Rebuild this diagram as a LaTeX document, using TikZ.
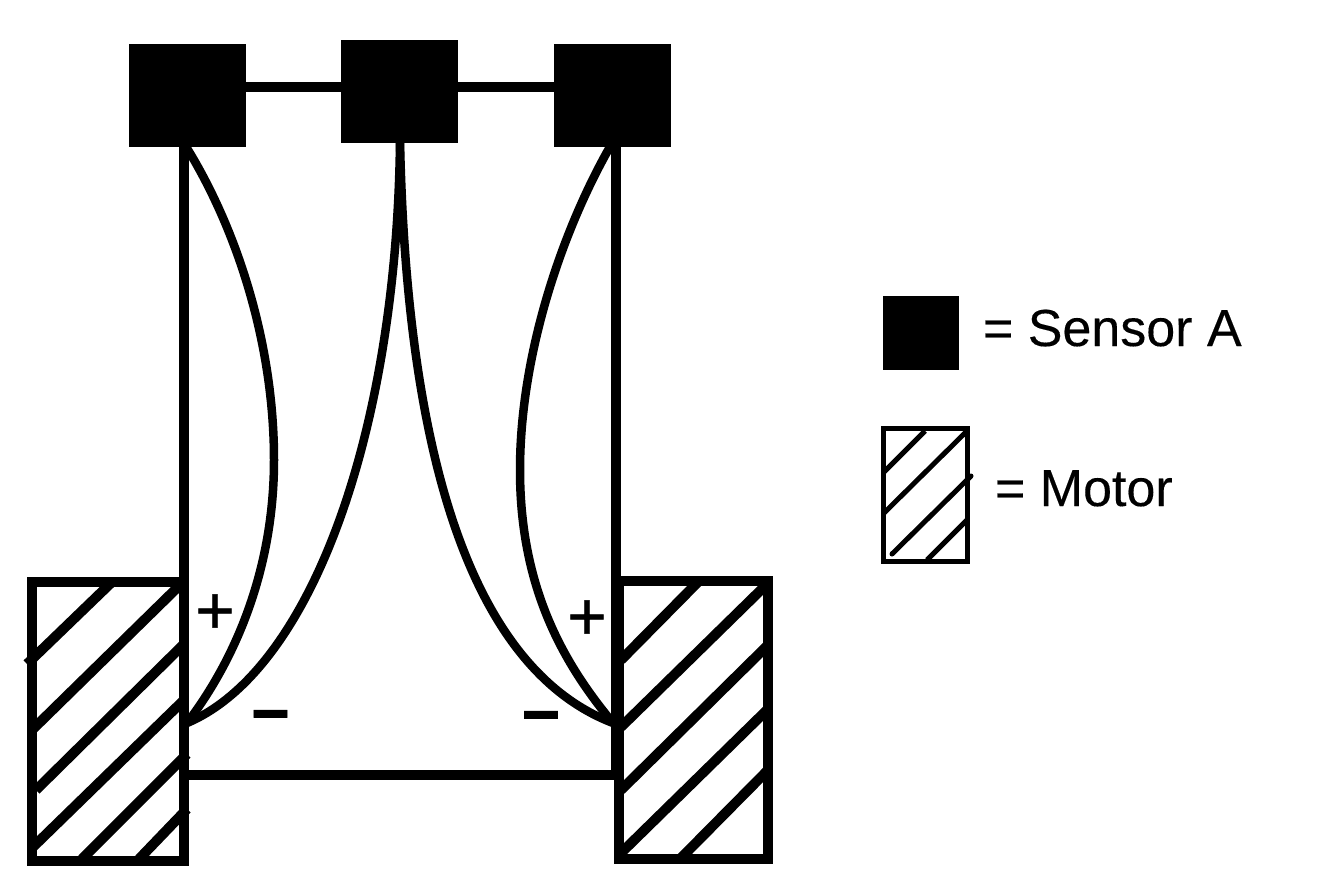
\documentclass[tikz,border=0pt]{standalone}
\usepackage{fontspec}
\setmainfont{Liberation Sans}
\newfontfamily\signfont[FakeBold=0.6]{Liberation Sans}
\newfontfamily\minusfont[FakeBold=1.2]{Liberation Sans Bold}
\newfontfamily\legendfont[FakeBold=0.25]{Liberation Sans}
\tikzset{
  sensorbox/.style={fill=black,draw=none,inner sep=0pt,outer sep=0pt,minimum width=117pt,minimum height=103pt},
  motorbox/.style={draw=black,line width=10pt,inner sep=0pt,outer sep=0pt},
  wire/.style={draw=black,line width=10.5pt},
  linkwire/.style={draw=black,line width=10pt},
  curvewire/.style={draw=black,line width=8.5pt},
  hatch/.style={draw=black,line width=10pt},
  smallhatch/.style={draw=black,line width=5pt},
  sign/.style={inner sep=0pt,outer sep=0pt,font=\fontsize{68pt}{68pt}\signfont},
  minussign/.style={inner sep=0pt,outer sep=0pt,font=\fontsize{66pt}{66pt}\minusfont},
  legendtext/.style={inner sep=0pt,outer sep=0pt,anchor=base west,font=\fontsize{52pt}{52pt}\legendfont}
}
\begin{document}
\begin{tikzpicture}[x=1pt,y=-1pt]
\useasboundingbox (0,0) rectangle (1343,886);
% sensors
\node[sensorbox] (sl) at (187.5,95.5) {};
\node[sensorbox] (sm) at (399.5,91.5) {};
\node[sensorbox] (sr) at (612.5,95) {};
% anchor points
\coordinate (lt) at (184,147);
\coordinate (rt) at (616,146);
\coordinate (ltc) at (185,145);
\coordinate (rtc) at (611,145);
\coordinate (mt) at (400,141);
\coordinate (lj) at (187,723);
\coordinate (rj) at (613,723);
\coordinate (lb) at (189,775);
\coordinate (rb) at (616,775);
% motors
\node[motorbox,minimum width=152pt,minimum height=279pt] (ml) at (108,721.5) {};
\node[motorbox,minimum width=149pt,minimum height=278pt] (mr) at (693.5,720) {};
% wires
\draw[linkwire] (sl.east |- 0,87) -- (sm.west |- 0,87);
\draw[linkwire] (sm.east |- 0,87) -- (sr.west |- 0,87);
\draw[wire] (lt) -- (184,582);
\draw[wire] (rt) -- (rb);
\draw[linkwire] (lb) -- (rb);
\draw[curvewire] (ltc) .. controls (235,225) and (274,340) .. (274,460) .. controls (274,570) and (235,660) .. (lj);
\draw[curvewire] (rtc) .. controls (565,225) and (520,350) .. (520,470) .. controls (520,590) and (565,665) .. (rj);
\draw[curvewire] (mt) .. controls (397,430) and (312,670) .. (lj);
\draw[curvewire] (mt) .. controls (406,430) and (462,665) .. (rj);
% hatching, left motor
\draw[hatch] (112,582) -- (27,664);
\draw[hatch] (179,586) -- (32,730);
\draw[hatch] (184,644) -- (36,790);
\draw[hatch] (184,700) -- (32,848);
\draw[hatch] (187,754) -- (82,859);
\draw[hatch] (187,809) -- (139,859);
% hatching, right motor
\draw[hatch] (699,581) -- (621,660);
\draw[hatch] (765,586) -- (621,727);
\draw[hatch] (768,645) -- (621,790);
\draw[hatch] (768,709) -- (621,853);
\draw[hatch] (768,770) -- (681,858);
% signs
\node[sign] (p1) at (215,614) {+};
\node[sign] (p2) at (587,620) {+};
\node[minussign] (n1) at (270.5,723) {−};
\node[minussign] (n2) at (541,724) {−};
% legend
\node[fill=black,draw=none,inner sep=0pt,minimum width=76pt,minimum height=74pt] (ks) at (921,333) {};
\node[draw=black,line width=5pt,inner sep=0pt,minimum width=84pt,minimum height=133pt] (km) at (925.5,494.5) {};
\draw[smallhatch] (925,431) -- (884,472);
\draw[smallhatch] (967,431) -- (884,513);
\draw[smallhatch,line cap=round] (971,476) -- (892,554);
\draw[smallhatch] (967,520) -- (927,560);
\node[legendtext] (t1) at (983,346) {= Sensor A};
\node[legendtext] (t2) at (995,506) {= Motor};
\end{tikzpicture}
\end{document}
